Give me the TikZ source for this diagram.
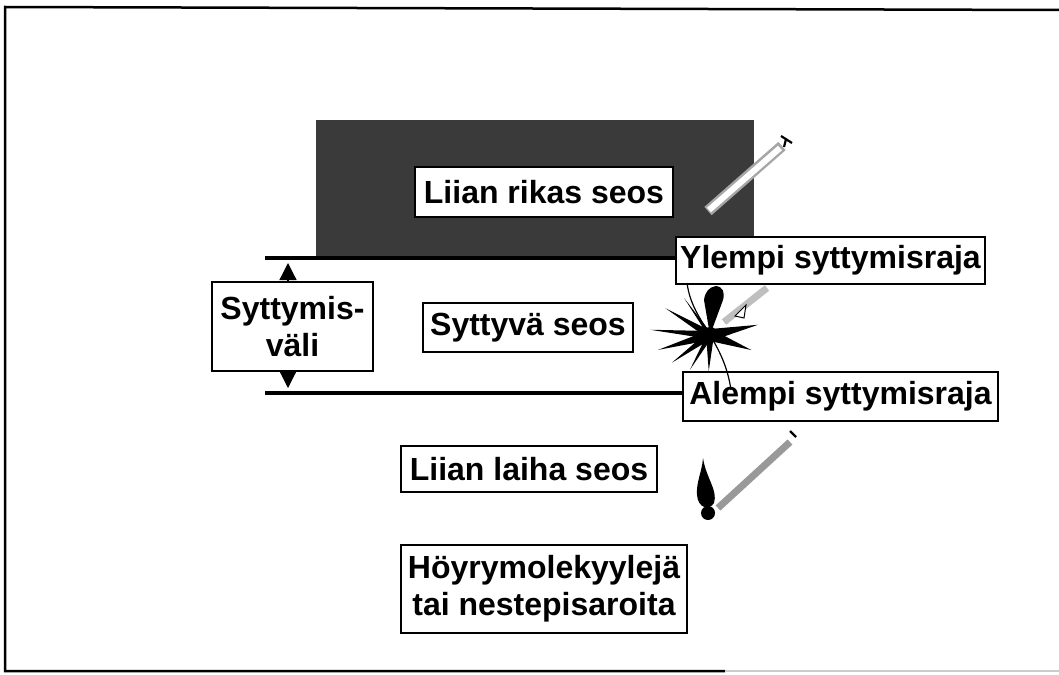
\documentclass[tikz,border=0pt]{standalone}
\usepackage{fontspec}
\setmainfont{Liberation Sans}
\usetikzlibrary{arrows.meta,calc}
\definecolor{richgrey}{HTML}{3A3A3A}
\definecolor{stickgrey}{HTML}{9C9C9C}
\tikzset{
  zn lbl/.style={draw=black, line width=1.3pt, fill=white, align=center, inner sep=0pt,
                 font=\fontsize{32}{37}\selectfont\bfseries},
  zn limit/.style={line width=4pt, black},
  zn arr/.style={-{Triangle[length=17pt,width=17pt]}, line width=1.2pt},
  zn spike/.style={fill=black},
}

\begin{document}
\begin{tikzpicture}[x=1pt, y=1pt]
  \useasboundingbox (0,0) rectangle (1059,-674);
  % outer frame
  \draw[line width=2.5pt] (1059,-10) -- (5,-7) -- (5,-671) -- (725,-671);
  \draw[line width=2pt, black!20] (725,-671) -- (1059,-671);
  % rich zone above the upper limit
  \fill[richgrey] (316,-120) rectangle (754,-257);
  \node[zn lbl, minimum width=258, minimum height=50] (rich) at (544,-192) {Liian rikas seos};
  % limits and labels
  \node[zn lbl, minimum width=309, minimum height=47] (upper) at (830.5,-260.5) {Ylempi syttymisraja};
  \node[zn lbl, minimum width=315, minimum height=49] (lower) at (840.5,-396.5) {Alempi syttymisraja};
  \coordinate (uL) at (265,-258);
  \coordinate (lL) at (265,-393);
  \draw[zn limit] (uL) -- (upper.west |- uL);
  \draw[zn limit] (lL) -- (lower.west |- lL);
  \node[zn lbl, minimum width=161, minimum height=89] (gap) at (292.5,-326.5) {Syttymis-\\väli};
  \draw[zn arr] ([xshift=-4.5pt]gap.north) -- ($([xshift=-4.5pt]gap.north |- uL)+(0,-5)$);
  \draw[zn arr] ([xshift=-4.5pt]gap.south) -- ($([xshift=-4.5pt]gap.south |- lL)+(0,5)$);
  \node[zn lbl, minimum width=210, minimum height=49] (burn) at (528,-327.5) {Syttyvä seos};
  \node[zn lbl, minimum width=256, minimum height=46] (lean) at (529,-469) {Liian laiha seos};
  \node[zn lbl, minimum width=286, minimum height=88] (vapour) at (544,-589) {Höyrymolekyylejä\\tai nestepisaroita};
  % match in the rich zone: no flame
  \draw[line width=11pt, black!35] (708,-211) -- (782,-146);
  \draw[line width=6pt, white] (709,-210) -- (780,-148);
  \draw[line width=2.2pt] (781,-136) -- (792,-143);
  \draw[line width=2.2pt] (786,-139) -- (784,-147);
  % match in the burning zone: explosion
  \coordinate (spark) at (710,-335);
  \draw[line width=7pt, black!25] (724,-322) -- (767,-288);
  \draw[line width=1pt, fill=white] (735,-316) -- (746,-305) -- (744,-318) -- cycle;
  \foreach \a/\r/\w in {175/60/4, 149/52/4, 196/54/5, 216/47/4, 240/40/3, 268/36/4, 340/44/6, 12/49/6, 125/45/2}
    \fill[zn spike, shift={(spark)}, rotate=\a] (0,-\w) -- (\r,0) -- (0,\w) -- cycle;
  \fill (spark) -- (704,-300) .. controls (705,-292) and (709,-287) .. (716,-286)
        .. controls (723,-287) and (725,-292) .. (723,-300) -- cycle;
  \fill (spark) circle (8);
  \draw[line width=1.2pt] (687,-283) .. controls (690,-305) and (700,-318) .. (spark);
  \draw[line width=1.2pt] (spark) .. controls (722,-355) and (728,-370) .. (731,-390);
  % match in the lean zone: small flame
  \draw[line width=7pt, black!40] (718,-508) -- (790,-442);
  \fill (703,-458) .. controls (706,-478) and (718,-490) .. (714,-503)
        .. controls (709,-511) and (698,-508) .. (697,-495)
        .. controls (696,-482) and (702,-472) .. (703,-458) -- cycle;
  \fill (708,-513) circle (7);
  \draw[line width=2.2pt] (790,-431) -- (796,-437);
\end{tikzpicture}
\end{document}
